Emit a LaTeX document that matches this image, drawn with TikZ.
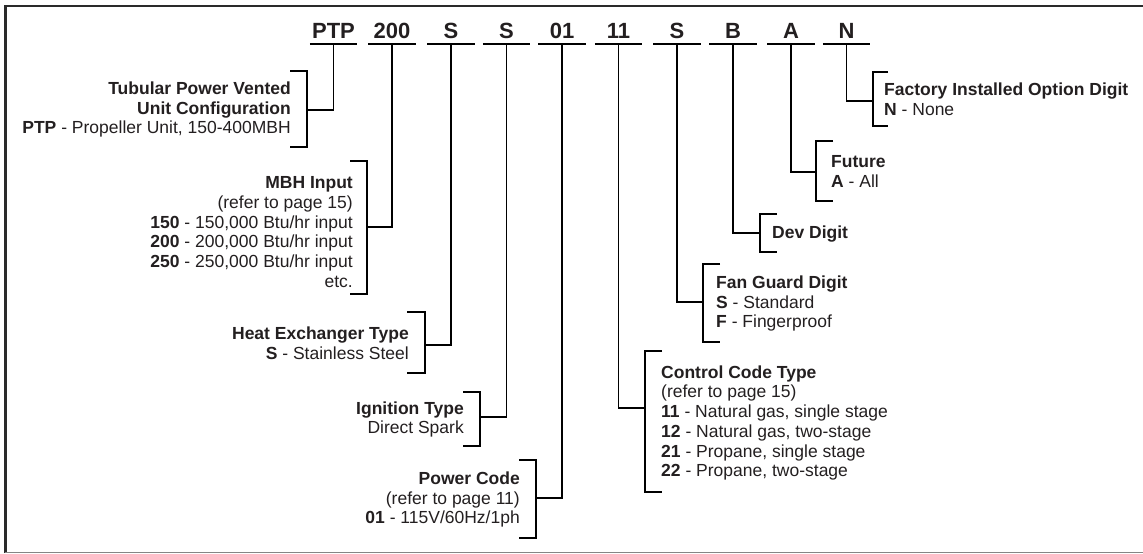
\documentclass[tikz,border=0pt]{standalone}
\usepackage{fontspec}
\setmainfont{Liberation Sans}
\definecolor{ink}{HTML}{231F20}
\definecolor{frame}{HTML}{2A2A2A}
\definecolor{frameb}{HTML}{858585}
\tikzset{
  code/.style={font=\fontsize{22}{24}\selectfont\bfseries, text=ink, anchor=base, inner sep=0pt, minimum width=47pt, text depth=6pt},
  lbl/.style={font=\fontsize{17.5}{19.7}\selectfont, text=ink, inner sep=0pt},
  lblL/.style={lbl, anchor=east, align=right},
  lblR/.style={lbl, anchor=west, align=left},
  wire/.style={draw=black, line width=1.9pt},
}
\begin{document}
\begin{tikzpicture}[x=1pt,y=-1pt]
\useasboundingbox (0,0) rectangle (1143,554);
% frame
\draw[frame, line width=2.2pt] (5.5,553) -- (5.5,6) -- (1143,6);
\draw[frameb, line width=1.6pt] (4.5,552.5) -- (1143,552.5);

% code letters
\node[code] (c1) at (333.5,38) {PTP};
\node[code] (c2) at (392,38) {200};
\node[code] (c3) at (451,38) {S};
\node[code] (c4) at (506.5,38) {S};
\node[code] (c5) at (562,38) {01};
\node[code] (c6) at (618.5,38) {11};
\node[code] (c7) at (677,38) {S};
\node[code] (c8) at (733,38) {B};
\node[code] (c9) at (791,38) {A};
\node[code] (c10) at (846.5,38) {N};
\foreach \c in {c1,c2,c3,c4,c5,c6,c7,c8,c9,c10}
  \draw[wire] (\c.south west) -- (\c.south east);

% bracket join points
\coordinate (b1) at (307,110);
\coordinate (b2) at (367,227);
\coordinate (b3) at (425,345);
\coordinate (b4) at (480,417);
\coordinate (b5) at (536,498);
\coordinate (b6) at (645,408);
\coordinate (b7) at (703,302);
\coordinate (b8) at (760,233);
\coordinate (b9) at (816,172);
\coordinate (b10) at (873,101);

% connectors
\draw[wire] (c1.south) |- (b1);
\draw[wire] (c2.south) |- (b2);
\draw[wire] (c3.south) |- (b3);
\draw[wire] (c4.south) |- (b4);
\draw[wire] (c5.south) |- (b5);
\draw[wire] (c6.south) |- (b6);
\draw[wire] (c7.south) |- (b7);
\draw[wire] (c8.south) |- (b8);
\draw[wire] (c9.south) |- (b9);
\draw[wire] (c10.south) |- (b10);

% brackets
\draw[wire] (290,71) -- (307,71) -- (307,147) -- (290,147);
\draw[wire] (350,161) -- (367,161) -- (367,294) -- (350,294);
\draw[wire] (407,312) -- (425,312) -- (425,373) -- (407,373);
\draw[wire] (463,392) -- (480,392) -- (480,446) -- (463,446);
\draw[wire] (519,460) -- (536,460) -- (536,538) -- (519,538);
\draw[wire] (662,351) -- (645,351) -- (645,492) -- (662,492);
\draw[wire] (720,264) -- (703,264) -- (703,342) -- (720,342);
\draw[wire] (777,214) -- (760,214) -- (760,252) -- (777,252);
\draw[wire] (833,141) -- (816,141) -- (816,201) -- (833,201);
\draw[wire] (888,72) -- (873,72) -- (873,126) -- (888,126);

% labels
\node[lblL] (t1) at (291,109.5) {\textbf{Tubular Power Vented}\\\textbf{Unit Configuration}\\\textbf{PTP} - Propeller Unit, 150-400MBH};
\node[lblL] (t2) at (353,232) {\textbf{MBH Input}\\(refer to page 15)\\\textbf{150} - 150,000 Btu/hr input\\\textbf{200} - 200,000 Btu/hr input\\\textbf{250} - 250,000 Btu/hr input\\etc.};
\node[lblL] (t3) at (409,343) {\textbf{Heat Exchanger Type}\\\textbf{S} - Stainless Steel};
\node[lblL] (t4) at (464,419.5) {\textbf{Ignition Type}\\Direct Spark};
\node[lblL] (t5) at (520,499.5) {\textbf{Power Code}\\(refer to page 11)\\\textbf{01} - 115V/60Hz/1ph};
\node[lblR] (t6) at (661,423) {\textbf{Control Code Type}\\(refer to page 15)\\\textbf{11} - Natural gas, single stage\\\textbf{12} - Natural gas, two-stage\\\textbf{21} - Propane, single stage\\\textbf{22} - Propane, two-stage};
\node[lblR] (t7) at (716,303.5) {\textbf{Fan Guard Digit}\\\textbf{S} - Standard\\\textbf{F} - Fingerproof};
\node[lblR] (t8) at (772,234.5) {\textbf{Dev Digit}};
\node[lblR] (t9) at (831,171.5) {\textbf{Future}\\\textbf{A} - All};
\node[lblR] (t10) at (884,99) {\textbf{Factory Installed Option Digit}\\\textbf{N} - None};
\end{tikzpicture}
\end{document}
